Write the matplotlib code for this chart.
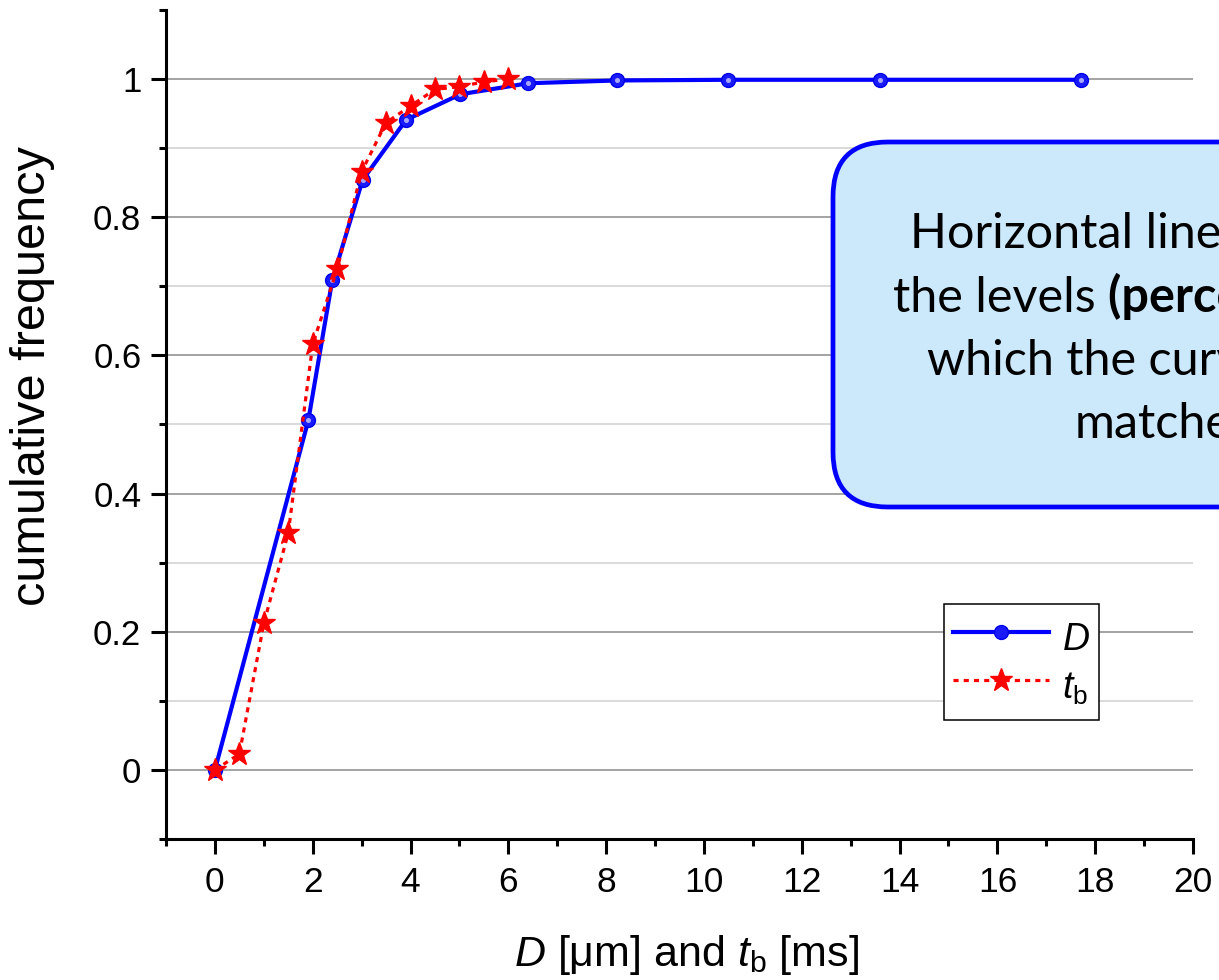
import matplotlib
matplotlib.use('Agg')
import matplotlib.pyplot as plt
from matplotlib.patches import FancyBboxPatch
from matplotlib.ticker import MultipleLocator, FuncFormatter
import numpy as np

plt.rcParams['font.family'] = ['Liberation Sans', 'DejaVu Sans']
plt.rcParams['mathtext.fontset'] = 'custom'
plt.rcParams['mathtext.rm'] = 'Liberation Sans'
plt.rcParams['mathtext.it'] = 'Liberation Sans:italic'
plt.rcParams['mathtext.bf'] = 'Liberation Sans:bold'

# ---- data ----
D_x = [0, 1.91, 2.40, 3.02, 3.91, 5.02, 6.41, 8.22, 10.5, 13.6, 17.7]
D_y = [0, 0.506, 0.709, 0.854, 0.941, 0.978, 0.994, 0.998, 0.999, 0.999, 0.999]
tb_x = [0, 0.5, 1.0, 1.5, 2.0, 2.5, 3.0, 3.5, 4.0, 4.5, 5.0, 5.5, 6.0]
tb_y = [0, 0.023, 0.212, 0.343, 0.616, 0.725, 0.866, 0.937, 0.961, 0.985, 0.989, 0.996, 1.0]
x_ticks = [0, 2, 4, 6, 8, 10, 12, 14, 16, 18, 20]
y_ticks = [0, 0.2, 0.4, 0.6, 0.8, 1.0]
grid_levels = [0, 0.1, 0.2, 0.3, 0.4, 0.5, 0.6, 0.7, 0.8, 0.9, 1.0]
labels = [r'$\it{D}$', r'$\it{t}_{\rm b}$']
box_lines = ['Horizontal lines are', 'the levels ', '(percentiles) at', 'which the curves are', 'matched']

W, H = 1219, 980
fig = plt.figure(figsize=(W / 100, H / 100), dpi=100)
ax = fig.add_axes([166 / W, 141 / H, 1027 / W, 829 / H])
ax.set_xlim(-1, 20)
ax.set_ylim(-0.1, 1.1)

for lv in grid_levels:
    major = abs(round(lv * 10) % 2) == 0
    ax.axhline(lv, color='#8a8a8a' if major else '#cfcfcf', lw=1.1, zorder=0.5)

lD, = ax.plot(D_x, D_y, '-', color='#0000ff', lw=3.0, marker='o', ms=10,
              mfc='#1a1aff', mec='#0000e6', mew=1.0, zorder=3, label=labels[0])
ax.plot(D_x, D_y, 'o', color='#a8a8ff', ms=2.6, zorder=3.1)
lt, = ax.plot(tb_x, tb_y, color='#ff0000', lw=2.3, ls=(0, (1.6, 1.6)), marker='*',
              ms=17, mfc='#ff0000', mec='#ff0000', zorder=4, label=labels[1])

for s in ['top', 'right']:
    ax.spines[s].set_visible(False)
for s in ['left', 'bottom']:
    ax.spines[s].set_linewidth(2.2)

ax.set_xticks(x_ticks)
ax.set_yticks(y_ticks)
ax.xaxis.set_minor_locator(MultipleLocator(1))
ax.set_yticks([-0.1, 0.1, 0.3, 0.5, 0.7, 0.9, 1.1], minor=True)
ax.yaxis.set_major_formatter(FuncFormatter(lambda v, p: f'{v:g}'))
ax.tick_params(which='major', length=10.8, width=2.2, direction='out')
ax.tick_params(which='minor', length=5.2, width=2.2, direction='out')
ax.tick_params(axis='x', labelsize=25.5, pad=8.5)
ax.tick_params(axis='y', labelsize=25, pad=7)

ax.set_xlabel(r'$\it{D}$ [μm] and $\it{t}_{\rm b}$ [ms]', fontsize=31)
ax.xaxis.set_label_coords(0.507, -0.113)
ax.set_ylabel('cumulative frequency', fontsize=35)
ax.yaxis.set_label_coords(-0.108, 0.5585)

leg = ax.legend(handles=[lD, lt], loc='upper left', bbox_to_anchor=(0.7576, 0.2835),
                borderaxespad=0, fontsize=27, frameon=True, fancybox=False,
                edgecolor='black', framealpha=1, handlelength=2.55,
                handletextpad=0.35, borderpad=0.25, labelspacing=0.0,
                handleheight=1.62, numpoints=1)
leg.get_frame().set_linewidth(1.1)
leg.set_zorder(6)

# ---- rounded annotation box (extends past the right edge) ----
box = FancyBboxPatch((833 / W, 1 - 507 / H), 600 / W, (507 - 142) / H,
                     boxstyle='round,pad=0,rounding_size=0.045',
                     transform=fig.transFigure, facecolor='#cce9fb',
                     edgecolor='#0000ff', lw=3.4, zorder=5, mutation_aspect=W / H)
fig.add_artist(box)

fs = 38
kw = dict(family='Lato', fontsize=fs, ha='left', va='baseline', zorder=7,
          transform=fig.transFigure)
t1 = fig.text(910 / W, 1 - 248 / H, box_lines[0], **kw)
t2 = fig.text(893 / W, 1 - 312 / H, box_lines[1], **kw)
t4 = fig.text(927 / W, 1 - 375 / H, box_lines[3], **kw)
t5 = fig.text(1075 / W, 1 - 438 / H, box_lines[4], **kw)
fig.canvas.draw()
r = fig.canvas.get_renderer()
# scale font so that "Horizontal line" spans ~312 px
probe = fig.text(0, 0, 'Horizontal line', family='Lato', fontsize=fs)
w = probe.get_window_extent(r).width
probe.remove()
fs2 = fs * 312 / w
for t in (t1, t2, t4, t5):
    t.set_fontsize(fs2)
fig.canvas.draw()
ext = t2.get_window_extent(r)
t3 = fig.text(ext.x1 / W, 1 - 312 / H, box_lines[2], family='Lato', weight='bold',
              fontsize=fs2, ha='left', va='baseline', zorder=7, transform=fig.transFigure)

fig.savefig('out.png', dpi=100)
